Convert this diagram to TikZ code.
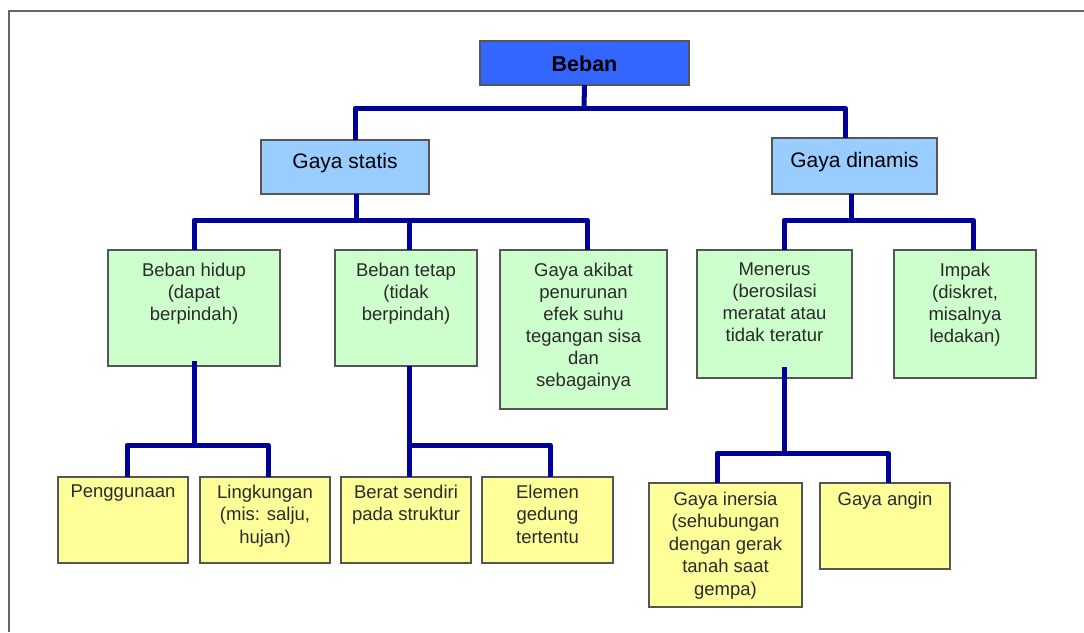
\documentclass[tikz,border=0pt]{standalone}
\usepackage{fontspec}
\setmainfont{Liberation Sans}
\definecolor{linkc}{HTML}{000099}
\definecolor{bordc}{HTML}{555555}
\definecolor{framec}{HTML}{666666}
\definecolor{cA}{HTML}{3366FF}
\definecolor{cB}{HTML}{99CCFF}
\definecolor{cC}{HTML}{CCFFCC}
\definecolor{cD}{HTML}{FFFF99}
\definecolor{txtc}{HTML}{2A2A2A}
\tikzset{
  boxbase/.style={draw=bordc, line width=1.4pt, inner sep=0pt, outer sep=0pt, rectangle},
  boxA/.style={boxbase, fill=cA},
  boxB/.style={boxbase, fill=cB},
  boxC/.style={boxbase, fill=cC},
  boxD/.style={boxbase, fill=cD},
  link/.style={draw=linkc, line width=5pt, line join=round, line cap=butt},
  lblA/.style={font=\fontsize{21.5}{26}\selectfont\bfseries, text=black, inner sep=0pt, anchor=base},
  lblB/.style={font=\fontsize{21}{26}\selectfont, text=black, inner sep=0pt, anchor=base},
  lblC/.style={font=\fontsize{18.5}{22}\selectfont, text=txtc, align=center, inner sep=0pt, anchor=north},
  lblD/.style={font=\fontsize{18.5}{22.5}\selectfont, text=txtc, align=center, inner sep=0pt, anchor=north},
}
\begin{document}
\begin{tikzpicture}[x=1pt,y=-1pt]
\useasboundingbox (0,0) rectangle (1084,632);
\fill[white] (0,0) rectangle (1084,632);
% frame
\draw[framec, line width=2pt] (1084,11) -- (9,11) -- (9,632);

% boxes
\node[boxA, minimum width=209pt, minimum height=44pt] (beban) at (584.5,63) {};
\node[boxB, minimum width=168pt, minimum height=54pt] (gs) at (345,167) {};
\node[boxB, minimum width=165pt, minimum height=56pt] (gd) at (854.5,166) {};
\node[boxC, minimum width=172pt, minimum height=116pt] (bh) at (194,308) {};
\node[boxC, minimum width=142pt, minimum height=116pt] (bt) at (406,308) {};
\node[boxC, minimum width=167pt, minimum height=159pt] (ga) at (583.5,329.5) {};
\node[boxC, minimum width=155pt, minimum height=128pt] (mn) at (774.5,314) {};
\node[boxC, minimum width=142pt, minimum height=128pt] (im) at (965,314) {};
\node[boxD, minimum width=130pt, minimum height=86pt] (pg) at (123,520) {};
\node[boxD, minimum width=130pt, minimum height=86pt] (lk) at (265,520) {};
\node[boxD, minimum width=130pt, minimum height=86pt] (bs) at (406,520) {};
\node[boxD, minimum width=131pt, minimum height=86pt] (el) at (547.5,520) {};
\node[boxD, minimum width=153pt, minimum height=124pt] (gi) at (725.5,545) {};
\node[boxD, minimum width=130pt, minimum height=86pt] (an) at (885,526) {};

% connectors
\coordinate (t1) at (584,108);
\coordinate (t2) at (356,220);
\coordinate (t3) at (851,220);
\coordinate (t4) at (194,445);
\coordinate (t5) at (409,445);
\coordinate (t6) at (784,453);
\draw[link] (beban.south) -- (t1);
\draw[link] (t1) -| ([xshift=10pt]gs.north);
\draw[link] (t1) -| ([xshift=-9.5pt]gd.north);
\draw[link] ([xshift=11pt]gs.south) -- (t2);
\draw[link] (t2) -| (bh.north);
\draw[link] (t2) -| ([xshift=3pt]bt.north);
\draw[link] (t2) -| ([xshift=3.5pt]ga.north);
\draw[link] ([xshift=-3.5pt]gd.south) -- (t3);
\draw[link] (t3) -| ([xshift=9.5pt]mn.north);
\draw[link] (t3) -| ([xshift=8pt]im.north);
\draw[link] ([yshift=5pt]bh.south) -- (t4);
\draw[link] (t4) -| ([xshift=4pt]pg.north);
\draw[link] (t4) -| ([xshift=3pt]lk.north);
\draw[link] ([xshift=3pt]bt.south) -- (t5);
\draw[link] (t5) -| ([xshift=3pt]bs.north);
\draw[link] (t5) -| ([xshift=2.5pt]el.north);
\draw[link] ([xshift=9.5pt,yshift=11pt]mn.south) -- (t6);
\draw[link] (t6) -| ([xshift=-8.5pt]gi.north);
\draw[link] (t6) -| ([xshift=3pt]an.north);

% labels
\node[lblA] (beban-t) at ([yshift=-30pt]beban.north) {Beban};
\node[lblB] (gs-t) at ([yshift=-28pt]gs.north) {Gaya statis};
\node[lblB] (gd-t) at ([yshift=-29pt]gd.north) {Gaya dinamis};
\node[lblC] (bh-t) at ([yshift=-12.7pt]bh.north) {Beban hidup\\(dapat\\berpindah)};
\node[lblC] (bt-t) at ([yshift=-12.7pt]bt.north) {Beban tetap\\(tidak\\berpindah)};
\node[lblC] (ga-t) at ([yshift=-12.7pt]ga.north) {Gaya akibat\\penurunan\\efek suhu\\tegangan sisa\\dan\\sebagainya};
\node[lblC] (mn-t) at ([yshift=-12.7pt]mn.north) {Menerus\\(berosilasi\\meratat atau\\tidak teratur};
\node[lblC] (im-t) at ([yshift=-12.7pt]im.north) {Impak\\(diskret,\\misalnya\\ledakan)};
\node[lblD] (pg-t) at ([yshift=-7.7pt]pg.north) {Penggunaan};
\node[lblD] (lk-t) at ([yshift=-7.7pt]lk.north) {Lingkungan\\(mis: salju,\\hujan)};
\node[lblD] (bs-t) at ([yshift=-7.7pt]bs.north) {Berat sendiri\\pada struktur};
\node[lblD] (el-t) at ([yshift=-7.7pt]el.north) {Elemen\\gedung\\tertentu};
\node[lblD] (gi-t) at ([yshift=-8.7pt]gi.north) {Gaya inersia\\(sehubungan\\dengan gerak\\tanah saat\\gempa)};
\node[lblD] (an-t) at ([yshift=-8.7pt]an.north) {Gaya angin};
\end{tikzpicture}
\end{document}
